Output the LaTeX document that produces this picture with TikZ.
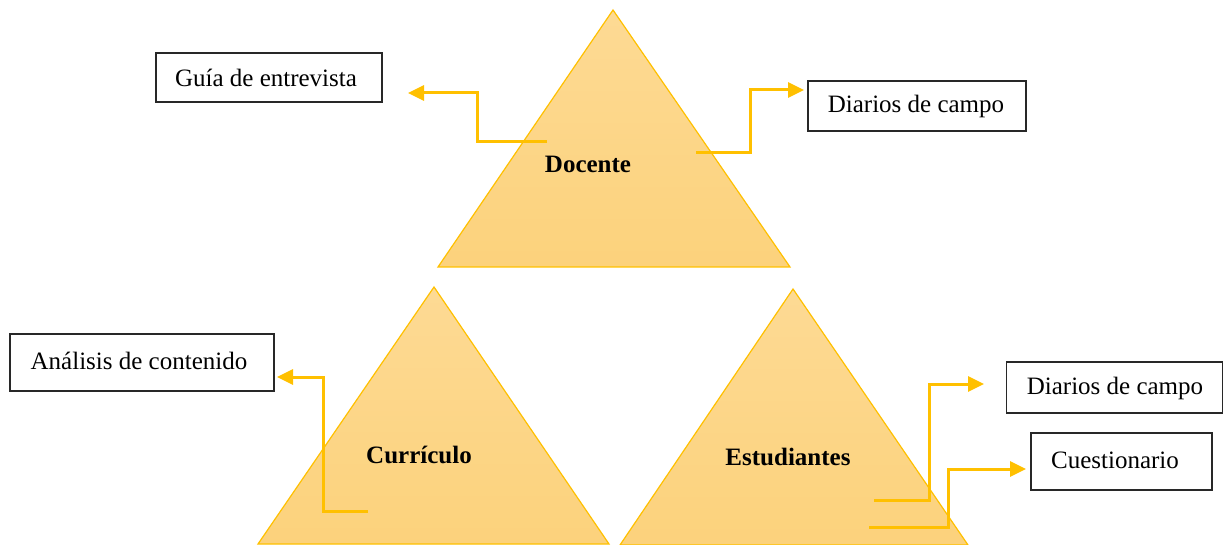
\documentclass[tikz,border=0pt]{standalone}
\usepackage{fontspec}
\setmainfont{Liberation Serif}
\usetikzlibrary{arrows.meta}
\definecolor{gold}{RGB}{255,192,0}
\definecolor{tritop}{RGB}{253,218,148}
\definecolor{tribot}{RGB}{252,210,124}
\definecolor{boxline}{RGB}{40,40,40}
\tikzset{
  tri/.style={draw=gold, line width=1.2pt, top color=tritop, bottom color=tribot},
  lbl/.style={font=\fontsize{25}{28}\selectfont\bfseries, inner sep=0pt},
  tbox/.style={draw=boxline, line width=1.3pt, inner sep=0pt, font=\fontsize{25}{28}\selectfont},
  conn/.style={draw=gold, line width=3pt, -{Triangle[length=16pt,width=15pt]}}
}
\begin{document}
\begin{tikzpicture}[x=1pt,y=-1pt]
\useasboundingbox (0,0) rectangle (1223,545);
% triangles
\path[tri] (613,10) -- (790,267) -- (438,267) -- cycle;
\path[tri] (434,287) -- (609,544) -- (258,544) -- cycle;
\path[tri] (793,289) -- (968,545) -- (620,545) -- cycle;
% labels
\node[lbl] (doc) at (588,164) {Docente};
\node[lbl] (cur) at (419,455) {Currículo};
\node[lbl] (est) at (788,457) {Estudiantes};
% boxes
\node[tbox, minimum width=226pt, minimum height=49pt] (guia) at (269,77.5) {};
\node[font=\fontsize{25}{28}\selectfont, inner sep=0pt] at (266,78) {Guía de entrevista};
\node[tbox, minimum width=218pt, minimum height=50pt] (dc1) at (917,106) {};
\node[font=\fontsize{25}{28}\selectfont, inner sep=0pt] at (916,106) {Diarios de campo};
\node[tbox, minimum width=264pt, minimum height=57pt] (ana) at (142,362.5) {};
\node[font=\fontsize{25}{28}\selectfont, inner sep=0pt] at (139,361) {Análisis de contenido};
\node[tbox, minimum width=216pt, minimum height=51pt] (dc2) at (1114.5,387.5) {};
\node[font=\fontsize{25}{28}\selectfont, inner sep=0pt] at (1115,388) {Diarios de campo};
\node[tbox, minimum width=181pt, minimum height=57pt] (cue) at (1121.5,461.5) {};
\node[font=\fontsize{25}{28}\selectfont, inner sep=0pt] at (1115,460) {Cuestionario};
% connector endpoints
\coordinate (s1) at (547,142);
\coordinate (e1) at (408,93);
\coordinate (s2) at (696,153);
\coordinate (e2) at (804,90);
\coordinate (s3) at (368,511);
\coordinate (e3) at (277,377);
\coordinate (s4) at (874,500);
\coordinate (e4) at (984,384);
\coordinate (s5) at (869,527);
\coordinate (e5) at (1026,469);
% connectors
\draw[conn] (s1) -- (477,142) -- (477,93) -- (e1);
\draw[conn] (s2) -- (750,153) -- (750,90) -- (e2);
\draw[conn] (s3) -- (323,511) -- (323,377) -- (e3);
\draw[conn] (s4) -- (929,500) -- (929,384) -- (e4);
\draw[conn] (s5) -- (948,527) -- (948,469) -- (e5);
\end{tikzpicture}
\end{document}
